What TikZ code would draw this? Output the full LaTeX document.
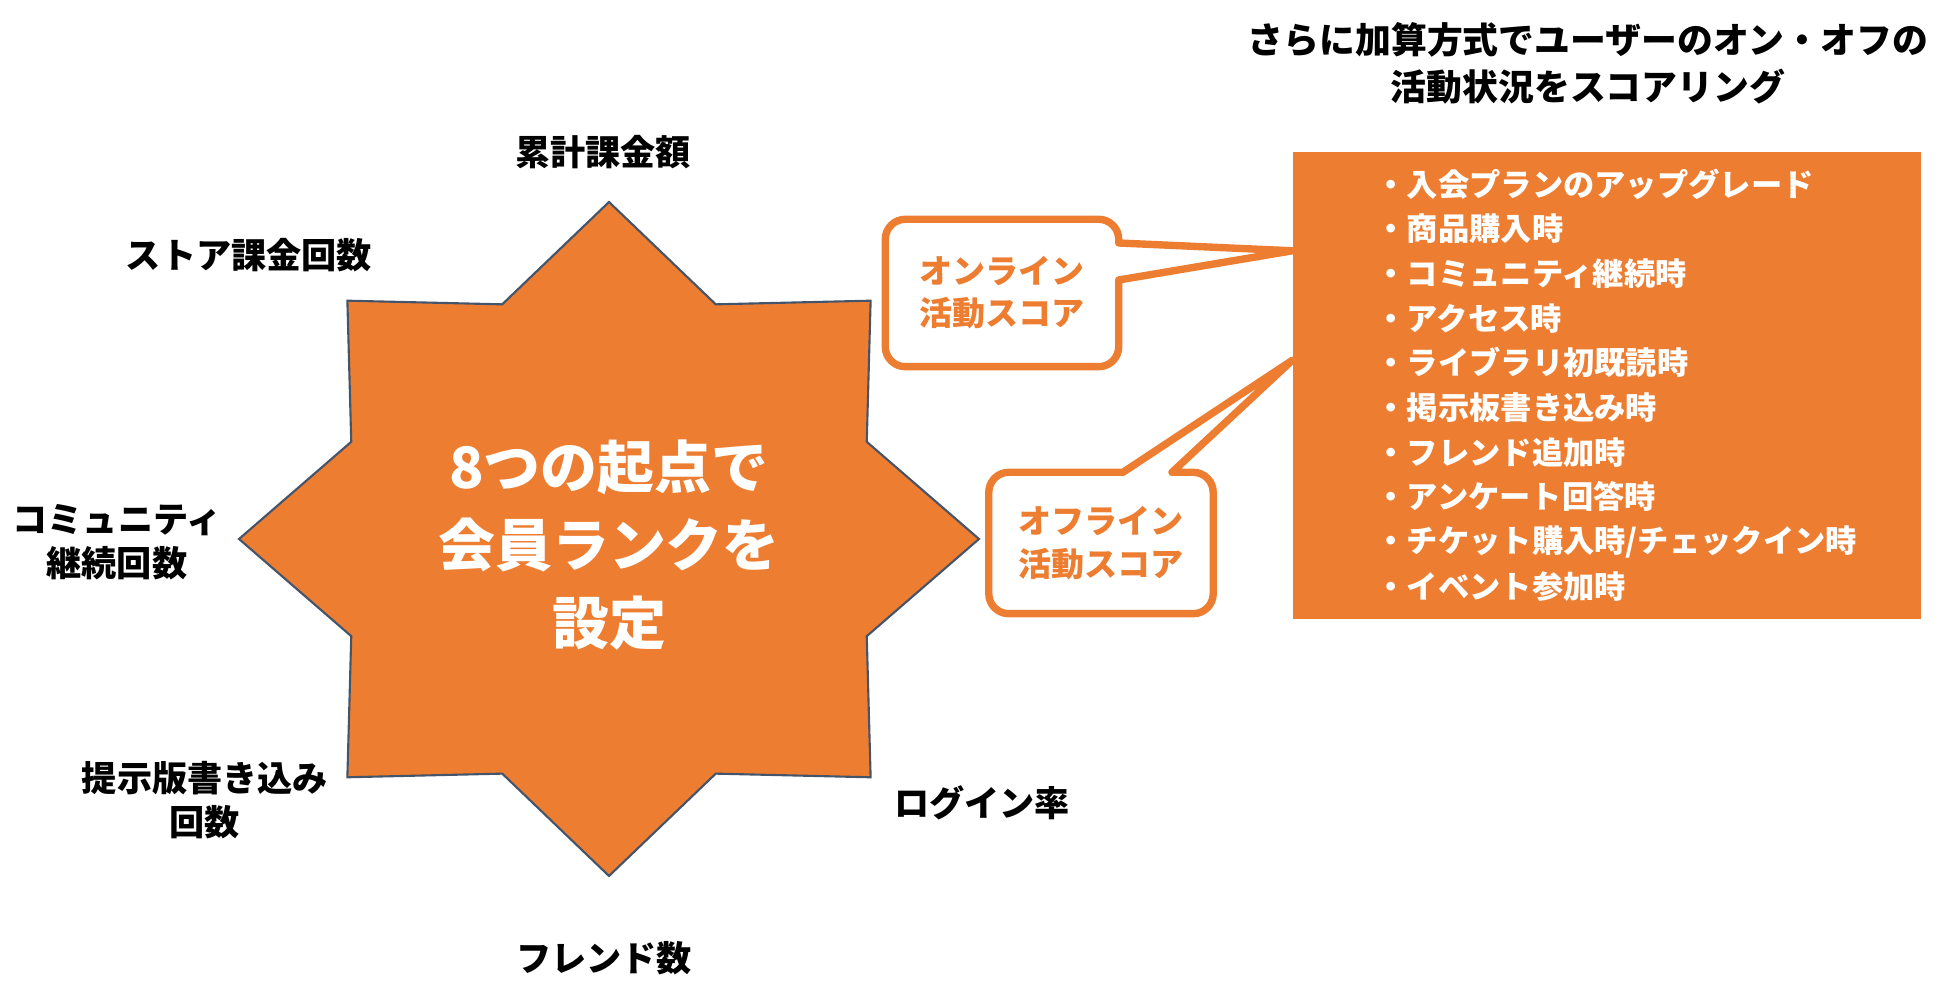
\documentclass[tikz,border=0pt]{standalone}
\usepackage{fontspec}
\setmainfont{Noto Sans CJK JP}[BoldFont={* Black}]
\usepackage{xcolor}
\usepackage{tikz}
\usetikzlibrary{calc, backgrounds}

\definecolor{accent}{HTML}{ED7D31}
\definecolor{edge}{HTML}{44546A}

\begin{document}
\begin{tikzpicture}[
    starshape/.style={fill=accent, draw=edge, line width=0.6pt, line join=miter},
    startext/.style={text=white, align=center, inner sep=0pt, font=\bfseries\fontsize{16.2}{22.2}\selectfont},
    pointlabel/.style={align=center, inner sep=0pt, font=\bfseries\fontsize{10}{12.4}\selectfont},
    bubble/.style={text=accent, align=center, inner sep=0pt, font=\bfseries\fontsize{9.4}{12}\selectfont},
    bubbleline/.style={draw=accent, fill=white, line width=2.1pt, line join=round},
    panel/.style={fill=accent, minimum width=6.28cm, minimum height=4.67cm, inner sep=0pt},
    item/.style={text=white, anchor=west, inner sep=0pt, font=\bfseries\fontsize{8.9}{10}\selectfont},
    heading/.style={align=center, inner sep=0pt, font=\bfseries\fontsize{10.2}{13.4}\selectfont}
]
\useasboundingbox (0,0) rectangle (19.5,9.99);

% Star
\draw[starshape, shift={(6.09,4.60)}] (0:3.70 and 3.37)
    \foreach \k in {1,...,7} { -- ({\k*45-22.5}:2.79 and 2.54) -- (\k*45:3.70 and 3.37) }
    -- (-22.5:2.79 and 2.54) -- cycle;
\node[startext] (core) at (6.09,4.54) {8つの起点で\\会員ランクを\\設定};

% Labels round the star
\node[pointlabel] (total)   at (6.03,8.47) {累計課金額};
\node[pointlabel] (store)   at (2.49,7.44) {ストア課金回数};
\node[pointlabel] (commu)   at (1.17,4.57) {コミュニティ\\継続回数};
\node[pointlabel] (board)   at (2.05,1.99) {提示版書き込み\\回数};
\node[pointlabel] (friends) at (6.04,0.41) {フレンド数};
\node[pointlabel] (login)   at (9.82,1.96) {ログイン率};

% Title
\node[heading] (heading) at (15.88,9.355) {さらに加算方式でユーザーのオン・オフの\\活動状況をスコアリング};

% Event panel
\node[panel] (panel) at (16.07,6.135) {};
\foreach \t [count=\i] in {入会プランのアップグレード, 商品購入時, コミュニティ継続時, アクセス時,
    ライブラリ初既読時, 掲示板書き込み時, フレンド追加時, アンケート回答時,
    チケット購入時/チェックイン時, イベント参加時}
    \node[item] (item\i) at (13.75,{8.15-(\i-1)*0.447}) {・\t};

% Callouts
\node[bubble, minimum width=2.32cm, minimum height=1.46cm] (online) at (10.02,7.06) {オンライン\\活動スコア};
\node[bubble, minimum width=2.23cm, minimum height=1.40cm] (offline) at (11.01,4.56) {オフライン\\活動スコア};
\coordinate (ontip)  at ($(panel.north west)+(0,-0.995)$);
\coordinate (offtip) at ($(panel.north west)+(0,-2.09)$);

\begin{scope}[on background layer]
\draw[bubbleline] (online.west) [rounded corners=0.2cm] |- (online.north east)
    [sharp corners] -- ($(online.east)+(0,0.50)$) -- (ontip) -- ($(online.east)+(0,0.13)$)
    [rounded corners=0.2cm] |- (online.south west) -- cycle;
\draw[bubbleline] (offline.west) [rounded corners=0.2cm] -- (offline.north west)
    [sharp corners] -- ($(offline.north)+(0.22,0)$) -- (offtip) -- ($(offline.north)+(0.71,0)$)
    [rounded corners=0.2cm] -| (offline.south east) -- (offline.south west) -- cycle;
\end{scope}

\end{tikzpicture}
\end{document}
